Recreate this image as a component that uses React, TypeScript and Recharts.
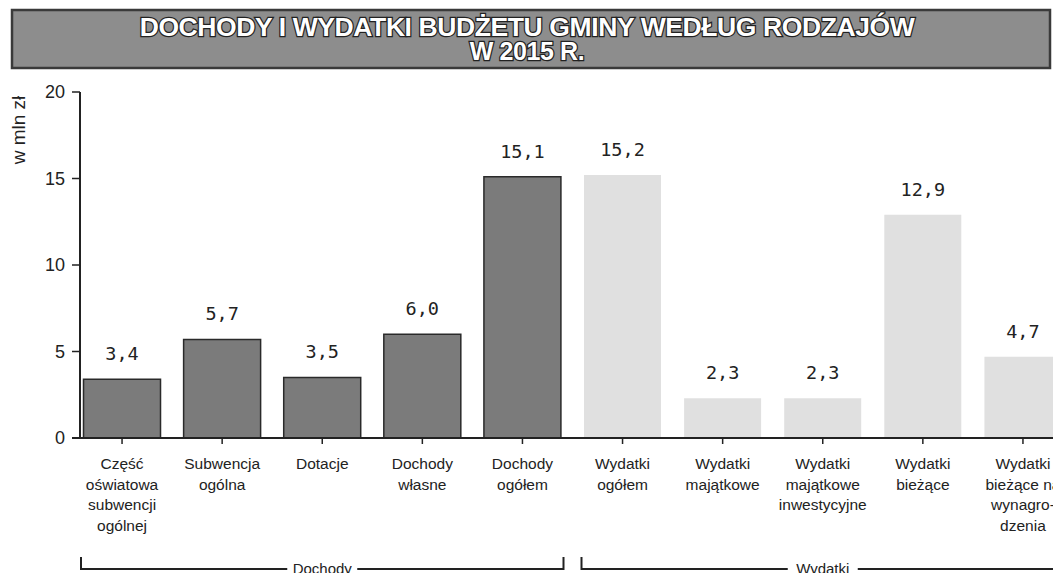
import React from 'react';
import * as R from 'recharts';

const { BarChart, Bar, XAxis, YAxis, Cell, LabelList, Customized } = R as any;

// ---- data ----
const categories = [
  'Część\noświatowa\nsubwencji\nogólnej',
  'Subwencja\nogólna',
  'Dotacje',
  'Dochody\nwłasne',
  'Dochody\nogółem',
  'Wydatki\nogółem',
  'Wydatki\nmajątkowe',
  'Wydatki\nmajątkowe\ninwestycyjne',
  'Wydatki\nbieżące',
  'Wydatki\nbieżące na\nwynagro-\ndzenia',
];
const values = [3.4, 5.7, 3.5, 6.0, 15.1, 15.2, 2.3, 2.3, 12.9, 4.7];
const groups = ['Dochody', 'Dochody', 'Dochody', 'Dochody', 'Dochody', 'Wydatki', 'Wydatki', 'Wydatki', 'Wydatki', 'Wydatki'];
const groupNames = ['Dochody', 'Wydatki'];
const yTicks = [0, 5, 10, 15, 20];
const titleLines = ['DOCHODY I WYDATKI BUDŻETU GMINY WEDŁUG RODZAJÓW', 'W 2015 R.'];
const yLabel = 'w mln zł';

const data = categories.map((name, i) => ({ name, value: values[i], group: groups[i] }));

const usePA = (R as any).usePlotArea;

const SANS = '"Liberation Sans", Arial, sans-serif';
const MONO = '"DejaVu Sans Mono", monospace';

const XTick = (props: any) => {
  const { x, y, payload } = props;
  const lines = String(payload.value).split('\n');
  return (
    <g>
      {lines.map((l: string, i: number) => (
        <text key={i} x={x} y={y + 23 + i * 20.5} textAnchor="middle" fontFamily={SANS} fontSize={15.5} fill="#222">
          {l}
        </text>
      ))}
    </g>
  );
};

const YTick = (props: any) => {
  const { x, y, payload } = props;
  return (
    <g>
      <line x1={x} x2={x + 8} y1={y} y2={y} stroke="#222" strokeWidth={1.5} />
      <text x={x - 7} y={y} dy="0.36em" textAnchor="end" fontFamily={SANS} fontSize={18} fill="#222">
        {payload.value}
      </text>
    </g>
  );
};

function Annotations() {
  const pa = usePA ? usePA() : null;
  const p = pa || { x: 72, y: 92, width: 1001, height: 346 };
  const band = p.width / categories.length;
  const axisX = p.x + 8;
  const yTop = 557;
  const yLine = 569;
  const pieces: any[] = [];
  groupNames.forEach((g) => {
    const idx = groups.map((gg, i) => (gg === g ? i : -1)).filter((i) => i >= 0);
    const x1 = p.x + idx[0] * band + 9;
    const x2 = p.x + (idx[idx.length - 1] + 1) * band - 9;
    const cx = (p.x + idx[0] * band + p.x + (idx[idx.length - 1] + 1) * band) / 2;
    const half = 35;
    pieces.push(
      <g key={g}>
        <path d={`M${x1},${yTop} V${yLine} H${cx - half}`} fill="none" stroke="#222" strokeWidth={2} />
        <path d={`M${cx + half},${yLine} H${x2} V${yTop}`} fill="none" stroke="#222" strokeWidth={2} />
        <text x={cx} y={574} textAnchor="middle" fontFamily={SANS} fontSize={15} fill="#222">
          {g}
        </text>
      </g>
    );
  });
  return (
    <g>
      <line x1={axisX} x2={axisX} y1={p.y} y2={p.y + p.height} stroke="#222" strokeWidth={2} />
      {pieces}
    </g>
  );
}

export default function App() {
  return (
    <div style={{ position: 'fixed', left: 0, top: 0, width: 1053, height: 573, overflow: 'hidden', background: '#fff' }}>
      <div style={{ position: 'absolute', left: 0, top: 0 }}>
        <BarChart
          width={1080}
          height={573}
          data={data}
          margin={{ top: 92, right: 7, bottom: 10, left: 12 }}
          barCategoryGap="11.5%"
        >
          <XAxis
            dataKey="name"
            interval={0}
            height={125}
            axisLine={{ stroke: '#222', strokeWidth: 2 }}
            tickLine={{ stroke: '#222', strokeWidth: 1.5 }}
            tickSize={6}
            tick={<XTick />}
          />
          <YAxis
            width={60}
            domain={[0, 20]}
            ticks={yTicks}
            axisLine={false}
            tickLine={false}
            tickSize={0}
            tickMargin={0}
            tick={<YTick />}
          />
          <Bar dataKey="value" isAnimationActive={false}>
            {data.map((d, i) => (
              <Cell
                key={i}
                fill={d.group === 'Dochody' ? '#7b7b7b' : '#e0e0e0'}
                stroke={d.group === 'Dochody' ? '#2a2a2a' : 'none'}
                strokeWidth={d.group === 'Dochody' ? 1.5 : 0}
              />
            ))}
            <LabelList
              dataKey="value"
              position="top"
              offset={19}
              formatter={(v: number) => v.toFixed(1).replace('.', ',')}
              style={{ fontFamily: MONO, fontSize: 18.5, fill: '#222' }}
            />
          </Bar>
          <Customized component={Annotations} />
        </BarChart>
      </div>
      <svg width={1053} height={80} style={{ position: 'absolute', left: 0, top: 0 }}>
        <rect x={12} y={10} width={1038} height={58} fill="#8d8d8d" stroke="#3a3a3a" strokeWidth={2.5} />
        {titleLines.map((t, i) => (
          <text
            key={i}
            x={527}
            y={36 + i * 24}
            textAnchor="middle"
            fontFamily={SANS}
            fontWeight="bold"
            fontSize={i === 0 ? 26.5 : 25}
            fill="#fff"
            stroke="#222"
            strokeWidth={2.5}
            paintOrder="stroke"
            letterSpacing={-0.4}
          >
            {t}
          </text>
        ))}
      </svg>
      <svg width={40} height={200} style={{ position: 'absolute', left: 0, top: 60 }}>
        <text
          x={0}
          y={0}
          transform="translate(25,70) rotate(-90)"
          textAnchor="middle"
          fontFamily={SANS}
          fontSize={19}
          fill="#222"
        >
          {yLabel}
        </text>
      </svg>
    </div>
  );
}
